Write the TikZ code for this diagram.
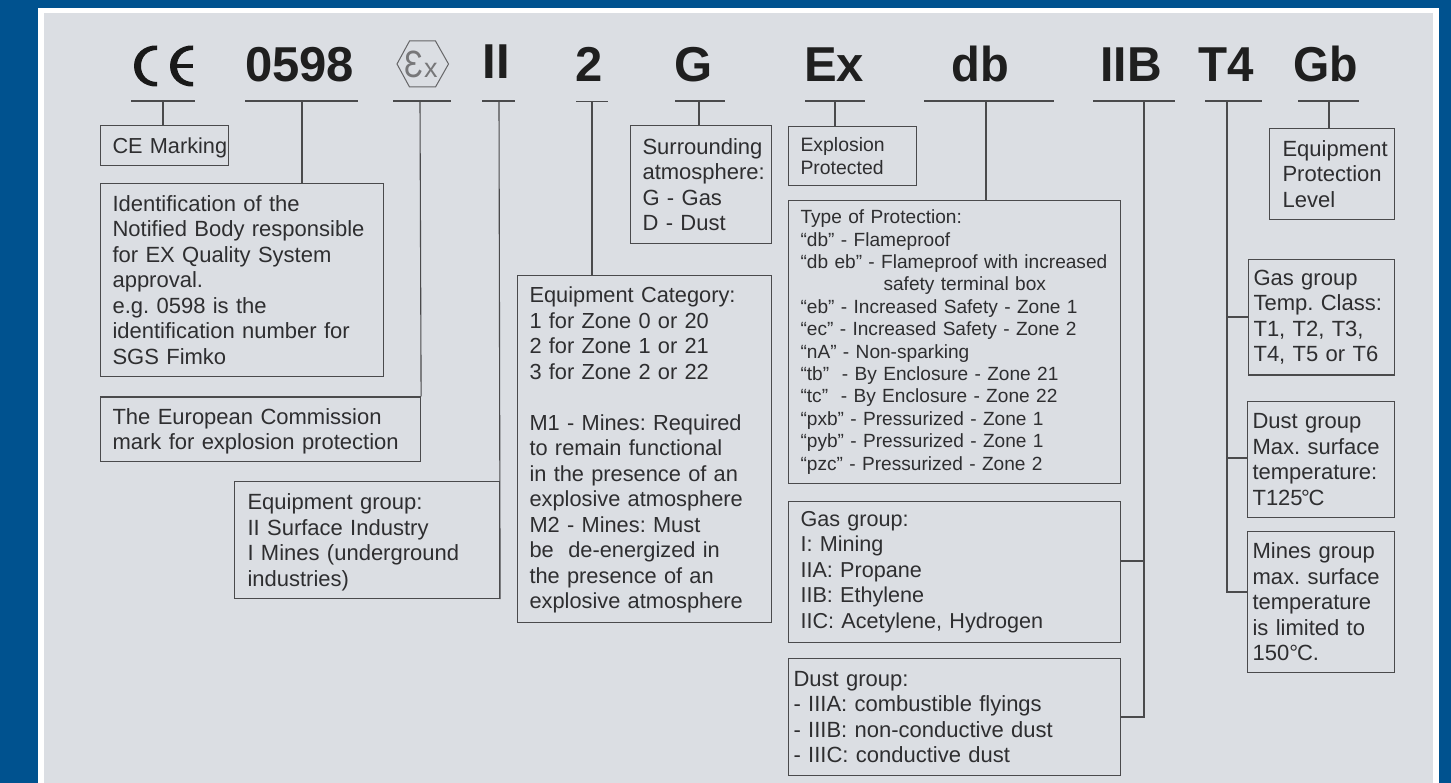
\documentclass[tikz,border=0pt]{standalone}
\usepackage{fontspec}
\setmainfont{Liberation Sans}
\definecolor{bluebg}{HTML}{00528F}
\definecolor{panel}{HTML}{DBDEE3}
\definecolor{ink}{HTML}{2E2E30}
\definecolor{wire}{HTML}{4A4A4C}
\tikzset{
  lab/.style={rectangle,draw=wire,line width=1.1pt,anchor=north west,inner xsep=0pt,inner ysep=0pt,text=ink,align=left},
  head/.style={anchor=base,text=black!88,font=\fontsize{49}{49}\selectfont\bfseries,inner sep=0pt},
  bar/.style={wire,line width=1.1pt},
}
% name x1 y1 x2 y2 inset fontsize leading text
\newcommand{\lbox}[9]{%
  \pgfmathsetmacro{\bw}{#4-#2}%
  \pgfmathsetmacro{\bh}{#5-#3}%
  \node[lab,text width=\bw pt,minimum height=\bh pt,font=\fontsize{#7}{#8}\selectfont] (#1) at (#2,#3) {\frenchspacing\leftskip=#6pt\rightskip=0pt plus 1fil\relax #9\par};}
\begin{document}
\begin{tikzpicture}[x=1pt,y=-1pt]
\useasboundingbox (0,0) rectangle (1451,783);
\fill[bluebg] (0,0) rectangle (1451,783);
\fill[white] (38,8) rectangle (1439,783);
\fill[panel] (44,13) rectangle (1433,783);

% headings
\node[head] (h0598) at (299.5,81.5) {0598};
\node[head] (hII) at (496,79) {II};
\node[head] (h2) at (589.5,81.5) {2};
\node[head] (hG) at (693.5,81.5) {G};
\node[head] (hEx) at (834,81.5) {Ex};
\node[head,xscale=.96] (hdb) at (980,81.5) {db};
\node[head,xscale=.98] (hIIB) at (1131,81.5) {IIB};
\node[head,xscale=.97] (hT4) at (1226,81.5) {T4};
\node[head,xscale=.95] (hGb) at (1326,81.5) {Gb};

% CE mark
\fill[black!90] (157,45.5) .. controls (144,45) and (134,54) .. (134,66) .. controls (134,78) and (144,87) .. (157,86.5) -- (157,82) .. controls (147,82) and (141,75) .. (141,66) .. controls (141,57) and (147,50) .. (157,50) -- cycle;
\fill[black!90] (193,45.5) .. controls (180,45) and (170,54) .. (170,66) .. controls (170,78) and (180,87) .. (193,86.5) -- (193,82) .. controls (183,82) and (177,75) .. (177,66) .. controls (177,57) and (183,50) .. (193,50) -- cycle;
\fill[black!90] (176,64) rectangle (193,68);

% Ex hexagon
\node[inner sep=0pt,text=wire!75,anchor=base] (hexlabel) at (421,78) {\scalebox{.82}[1]{\fontsize{38}{38}\selectfont Ɛ}\kern1pt\fontsize{27}{27}\selectfont x};
\draw[wire!85,line width=1pt] (397,64) -- (409.5,41) -- (435.5,41) -- (448.5,64) -- (435.5,87) -- (409.5,87) -- cycle;

% bars
\coordinate (b1a) at (131,101); \coordinate (b1b) at (195,101);
\coordinate (b2a) at (245,101); \coordinate (b2b) at (358,101);
\coordinate (b3a) at (393,101); \coordinate (b3b) at (451,101);
\coordinate (b4a) at (482,101); \coordinate (b4b) at (515,101);
\coordinate (b5a) at (576,101.5); \coordinate (b5b) at (608,101.5);
\coordinate (b6a) at (675,101); \coordinate (b6b) at (725,101);
\coordinate (b7a) at (805,101); \coordinate (b7b) at (865,101);
\coordinate (b8a) at (924,101); \coordinate (b8b) at (1054,101);
\coordinate (b9a) at (1093,101); \coordinate (b9b) at (1175,101);
\coordinate (b10a) at (1205,101); \coordinate (b10b) at (1262,101);
\coordinate (b11a) at (1298,101); \coordinate (b11b) at (1359,101);
\foreach \i in {1,...,11} \draw[bar] (b\i a) -- (b\i b);

% drop points on the bars
\coordinate (d1) at (163,101);
\coordinate (d2) at (302,101);
\coordinate (d3) at (420,101);
\coordinate (d4) at (499,101);
\coordinate (d5) at (592,101.5);
\coordinate (d6) at (699,101);
\coordinate (d7) at (835,101);
\coordinate (d8) at (986,101);
\coordinate (d9) at (1144,101);
\coordinate (d10) at (1227,101);
\coordinate (d11) at (1329,101);

% boxes
\lbox{ce}{100}{125}{228}{165}{12}{21.7}{25.5}{\rule{0pt}{20pt}CE Marking}
\lbox{nb}{100}{183}{383}{376}{12}{22}{25.5}{Identification of the\\Notified Body responsible\\for EX Quality System\\approval.\\e.g. 0598 is the\\identification number for\\SGS Fimko}
\lbox{ec}{100}{396.5}{420}{461}{12}{22}{25.5}{\rule{0pt}{20pt}The European Commission\\mark for explosion protection}
\lbox{eg}{234}{481}{499}{598}{13}{22}{25.5}{\rule{0pt}{20pt}Equipment group:\\II Surface Industry\\I Mines (underground\\industries)}
\lbox{cat}{517}{275}{771}{622}{12}{21.8}{25.5}{\rule{0pt}{18pt}Equipment Category:\\1 for Zone 0 or 20\\2 for Zone 1 or 21\\3 for Zone 2 or 22\\[25.5pt]M1 - Mines: Required\\to remain functional\\in the presence of an\\explosive atmosphere\\M2 - Mines: Must\\be\ \ de-energized in\\the presence of an\\explosive atmosphere}
\lbox{sa}{630}{125}{771}{243}{12}{22}{25.5}{Surrounding\\atmosphere:\\G - Gas\\D - Dust}
\lbox{ep}{788}{126}{916}{185}{12}{19.4}{22.5}{Explosion\\Protected}
\lbox{tp}{788}{200}{1120}{483}{12}{19.1}{22.4}{Type of Protection:\\“db” - Flameproof\\“db eb” - Flameproof with increased\\\hspace*{83pt}safety terminal box\\“eb” - Increased Safety - Zone 1\\“ec” - Increased Safety - Zone 2\\“nA” - Non-sparking\\“tb”\ \ - By Enclosure - Zone 21\\“tc”\ \ - By Enclosure - Zone 22\\“pxb” - Pressurized - Zone 1\\“pyb” - Pressurized - Zone 1\\“pzc” - Pressurized - Zone 2}
\lbox{gg}{788}{501}{1120}{642}{12}{21.6}{25.5}{Gas group:\\I: Mining\\IIA: Propane\\IIB: Ethylene\\IIC: Acetylene, Hydrogen}
\lbox{dg}{788}{658}{1120}{775}{5}{22}{25.5}{Dust group:\\- IIIA: combustible flyings\\- IIIB: non-conductive dust\\- IIIC: conductive dust}
\lbox{pl}{1269}{128}{1394}{219}{13}{22}{25.5}{Equipment\\Protection\\Level}
\lbox{tc}{1248}{259}{1394}{374.5}{5}{22}{25.5}{Gas group\\Temp. Class:\\T1, T2, T3,\\T4, T5 or T6}
\lbox{dt}{1247}{401}{1394}{517}{5}{22}{25.5}{Dust group\\Max. surface\\temperature:\\T125\kern-1.5pt°\kern-1.5pt C}
\lbox{mg}{1247}{530.5}{1394}{672}{5}{22}{25.5}{Mines group\\max. surface\\temperature\\is limited to\\150°\kern-1pt C.}

% tick levels on the trunk lines
\coordinate (t1) at (1144,561);
\coordinate (t2) at (1144,717);
\coordinate (t3) at (1227,317);
\coordinate (t4) at (1227,458);
\coordinate (t5) at (1227,592);

% connectors
\draw[bar] (d1) -- (d1 |- ce.north);
\draw[bar] (d2) -- (d2 |- nb.north);
\draw[bar] (d3) -- (ec.north east);
\draw[bar] (d4) -- (eg.south east);
\draw[bar] (d5) -- (d5 |- cat.north);
\draw[bar] (d6) -- (d6 |- sa.north);
\draw[bar] (d7) -- (d7 |- ep.north);
\draw[bar] (d8) -- (d8 |- tp.north);
\draw[bar] (d9) -- (t2) -- (dg.east |- t2);
\draw[bar] (t1) -- (gg.east |- t1);
\draw[bar] (d10) -- (t5) -- (mg.west |- t5);
\draw[bar] (t3) -- (tc.west |- t3);
\draw[bar] (t4) -- (dt.west |- t4);
\draw[bar] (d11) -- (d11 |- pl.north);
\end{tikzpicture}
\end{document}
